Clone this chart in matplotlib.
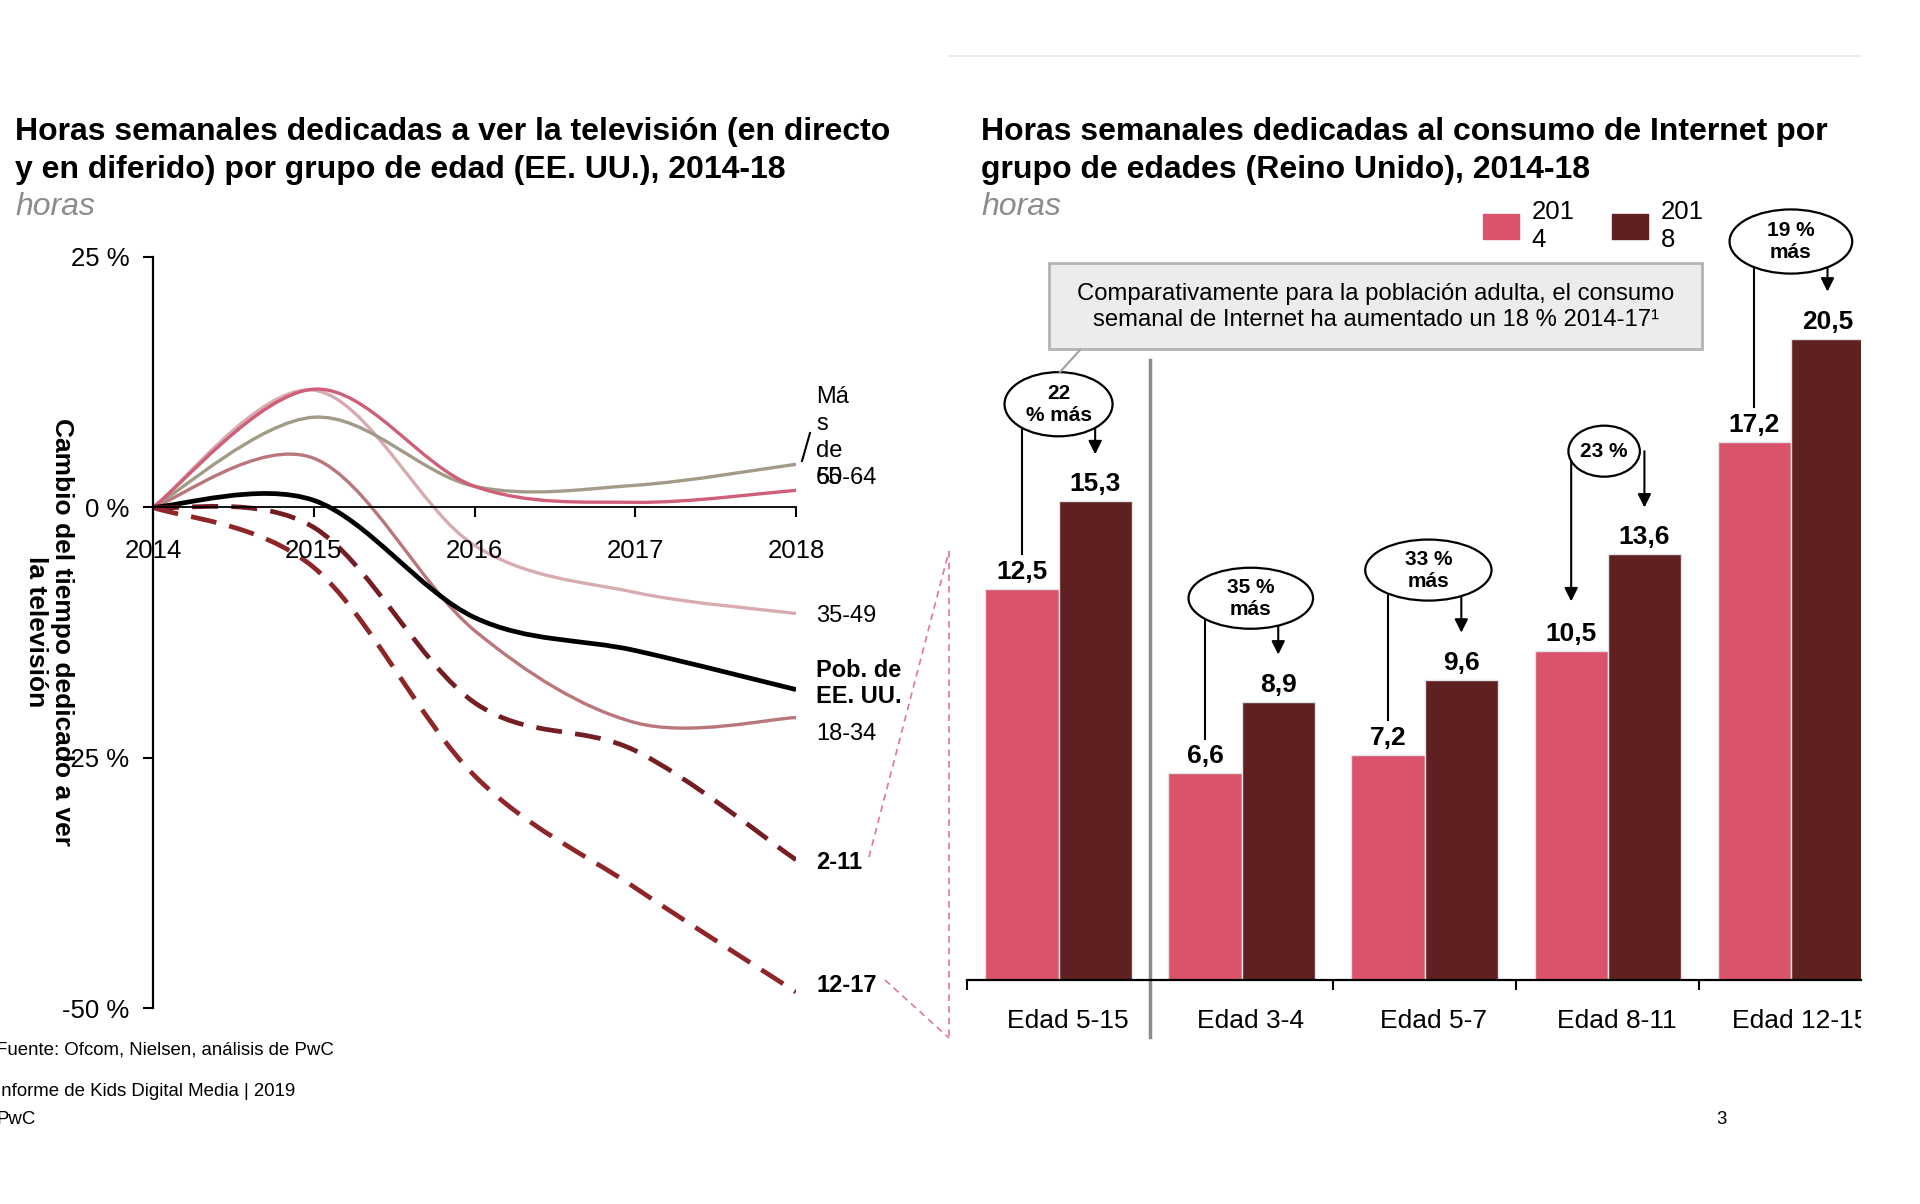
import matplotlib.pyplot as plt
from matplotlib.patches import Ellipse, Rectangle, Patch, PathPatch
from matplotlib.lines import Line2D
from matplotlib.path import Path
from matplotlib.transforms import Bbox, TransformedBbox, blended_transform_factory

plt.rcParams['font.family'] = ['Liberation Sans', 'DejaVu Sans']

# ---- left chart: change in TV time (%), yearly values ----
years = [2014, 2015, 2016, 2017, 2018]
mas65 = [0, 9.0, 2.1, 2.2, 4.3]
g50_64 = [0, 11.8, 2.1, 0.5, 1.7]
g35_49 = [0, 11.7, -3.8, -8.5, -10.6]
g18_34 = [0, 4.9, -12.3, -21.5, -21.0]
pob_eeuu = [0, 0.7, -11.0, -14.3, -18.2]
g2_11 = [0, -2.0, -19.5, -24.3, -35.2]
g12_17 = [0, -6.0, -26.8, -38.0, -48.4]

pct_ticks = [25, 0, -25, -50]
pct_labels = ['25 %', '0 %', '-25 %', '-50 %']

# ---- right chart: weekly internet hours (UK) ----
groups = ['Edad 5-15', 'Edad 3-4', 'Edad 5-7', 'Edad 8-11', 'Edad 12-15']
h2014 = [12.5, 6.6, 7.2, 10.5, 17.2]
h2018 = [15.3, 8.9, 9.6, 13.6, 20.5]
growth = ['22\n% más', '35 %\nmás', '33 %\nmás', '23 %', '19 %\nmás']

PINK = '#d9536b'
DARK = '#5e2021'

W, H = 1920, 1204


def fx(px):
    return px / W


def fy(py):
    return 1 - py / H


def smooth_path(xs, ys):
    """Smoothed line through the points (like a spreadsheet 'smooth line')"""
    pts = list(zip(xs, ys))
    n = len(pts)
    verts = [pts[0]]
    codes = [Path.MOVETO]
    for i in range(n - 1):
        p0 = pts[max(i - 1, 0)]
        p1 = pts[i]
        p2 = pts[i + 1]
        p3 = pts[min(i + 2, n - 1)]
        c1 = (p1[0] + (p2[0] - p0[0]) / 6, p1[1] + (p2[1] - p0[1]) / 6)
        c2 = (p2[0] - (p3[0] - p1[0]) / 6, p2[1] - (p3[1] - p1[1]) / 6)
        verts += [c1, c2, p2]
        codes += [Path.CURVE4] * 3
    return Path(verts, codes)


fig = plt.figure(figsize=(19.2, 12.04), dpi=100)

# ================= left chart =================
ax = fig.add_axes([fx(153), fy(1008), (796 - 153) / W, (1008 - 257) / H])

lines = [
    (g35_49, '#d8abb1', '-', 2.4),
    (g18_34, '#b9777c', '-', 2.4),
    (mas65, '#a19b88', '-', 2.4),
    (g50_64, '#cf5f78', '-', 2.4),
    (pob_eeuu, 'black', '-', 3.4),
    (g2_11, '#741d23', (0, (5.5, 2.8)), 3.4),
    (g12_17, '#8e2529', (0, (5.5, 2.8)), 3.4),
]
for vals, col, ls, lw in lines:
    ax.add_patch(PathPatch(smooth_path(years, vals), facecolor='none', edgecolor=col,
                           lw=lw, linestyle=ls, joinstyle='round', capstyle='butt'))

ax.set_xlim(2014, 2018)
ax.set_ylim(-50, 25)
ax.spines['top'].set_visible(False)
ax.spines['right'].set_visible(False)
ax.spines['bottom'].set_position(('data', 0))
ax.spines['left'].set_linewidth(1.6)
ax.spines['bottom'].set_linewidth(1.3)
ax.set_xticks(years)
ax.set_xticklabels([str(y) for y in years])
ax.set_yticks(pct_ticks)
ax.set_yticklabels(pct_labels)
ax.tick_params(axis='both', direction='out', length=7, width=1.5, labelsize=18.5)
ax.tick_params(axis='x', pad=16)
ax.tick_params(axis='y', pad=10)

# end labels
end_labels = [
    (g35_49, '35-49', 'normal', -3),
    (pob_eeuu, 'Pob. de\nEE. UU.', 'bold', 6),
    (g18_34, '18-34', 'normal', -16),
    (g2_11, '2-11', 'bold', -3),
    (g12_17, '12-17', 'bold', 6),
]
for vals, txt, wt, dy in end_labels:
    ax.annotate(txt, (2018, vals[-1]), xytext=(20, dy), textcoords='offset pixels',
                ha='left', va='center', fontsize=17, fontweight=wt, linespacing=1.2,
                annotation_clip=False)
ax.annotate('50-64', (2018, g50_64[-1]), xytext=(20, 1), textcoords='offset pixels',
            ha='left', va='bottom', fontsize=17, annotation_clip=False)
ax.annotate('Má\ns\nde\n65', (2018, g50_64[-1]), xytext=(20, 1), textcoords='offset pixels',
            ha='left', va='bottom', fontsize=17, linespacing=1.3, annotation_clip=False)
fig.add_artist(Line2D([fx(802), fx(810)], [fy(461), fy(433)], color='black', lw=1.5))

fig.text(fx(49), fy(632), 'Cambio del tiempo dedicado a ver\nla televisión', rotation=270,
         ha='center', va='center', multialignment='center', fontsize=19,
         fontweight='bold', linespacing=1.1)

# titles
fig.text(fx(15), fy(132), 'Horas semanales dedicadas a ver la televisión (en directo',
         fontsize=23, fontweight='bold', va='center')
fig.text(fx(15), fy(170), 'y en diferido) por grupo de edad (EE. UU.), 2014-18',
         fontsize=23, fontweight='bold', va='center')
fig.text(fx(15), fy(207), 'horas', fontsize=23, style='italic', color='#8c8c8c', va='center')

fig.text(fx(981), fy(132), 'Horas semanales dedicadas al consumo de Internet por',
         fontsize=23, fontweight='bold', va='center')
fig.text(fx(981), fy(170), 'grupo de edades (Reino Unido), 2014-18',
         fontsize=23, fontweight='bold', va='center')
fig.text(fx(981), fy(207), 'horas', fontsize=23, style='italic', color='#8c8c8c', va='center')

# footer
fig.text(fx(-4), fy(1050), 'Fuente: Ofcom, Nielsen, análisis de PwC', fontsize=13.4, va='center')
fig.text(fx(-4), fy(1091), 'Informe de Kids Digital Media | 2019', fontsize=13.4, va='center')
fig.text(fx(-4), fy(1119), 'PwC', fontsize=13.4, va='center')
fig.text(fx(1716), fy(1119), '3', fontsize=13.4, va='center')

# connector between the two charts
conn = dict(color='#e0788f', lw=1.2, ls=(0, (4, 3)))
fig.add_artist(Line2D([fx(869), fx(949)], [fy(857), fy(551)], **conn))
fig.add_artist(Line2D([fx(885), fx(949)], [fy(980), fy(1038)], **conn))
fig.add_artist(Line2D([fx(949), fx(949)], [fy(551), fy(1038)], **conn))
fig.add_artist(Line2D([fx(949), fx(1861)], [fy(56), fy(56)], color='#ebebeb', lw=1.5))

# ================= right chart =================
ax2 = fig.add_axes([fx(967), fy(980), (1861 - 967) / W, 751 / H])
xs = list(range(len(groups)))
ax2.bar([x - 0.2 for x in xs], h2014, width=0.4, color=PINK, edgecolor='#e4e4e4', lw=1)
ax2.bar([x + 0.2 for x in xs], h2018, width=0.4, color=DARK, edgecolor='#e4e4e4', lw=1)
ax2.set_xlim(-0.5, 4.383)
ax2.set_ylim(0, 24)
for s in ['top', 'right', 'left']:
    ax2.spines[s].set_visible(False)
ax2.spines['bottom'].set_linewidth(1.6)
ax2.set_yticks([])
ax2.set_xticks([-0.5, 1.5, 2.5, 3.5])
ax2.tick_params(axis='x', length=7, width=1.5, labelbottom=False)

clip = TransformedBbox(Bbox([[0, 0], [fx(1861), 1]]), fig.transFigure)
trans = blended_transform_factory(ax2.transData, ax2.transAxes)
for x, g in zip(xs, groups):
    t = ax2.text(x + 0.05, -41 / 751, g, transform=trans, ha='center', va='center',
                 fontsize=19)
    t.set_clip_box(clip)
    t.set_clip_on(True)

for x, v in zip(xs, h2014):
    ax2.annotate(f'{v:.1f}'.replace('.', ','), (x - 0.2, v), xytext=(0, 5),
                 textcoords='offset pixels', ha='center', va='bottom',
                 fontsize=19, fontweight='bold')
for x, v in zip(xs, h2018):
    ax2.annotate(f'{v:.1f}'.replace('.', ','), (x + 0.2, v), xytext=(0, 5),
                 textcoords='offset pixels', ha='center', va='bottom',
                 fontsize=19, fontweight='bold')

# separator between total and age groups
ax2.plot([0.5, 0.5], [19.8, -1.82], color='#8c8c8c', lw=2.5, clip_on=False)

# growth bubbles
ell_dx = [0, 0.05, 0.02, -0.02, 0]
ell_dy = [3.1, 3.3, 3.5, 3.3, 3.1]
ell_w = [0.59, 0.68, 0.69, 0.39, 0.67]
ell_h = [2.05, 1.95, 1.95, 1.63, 2.05]
for i, x in enumerate(xs):
    ex = x + ell_dx[i]
    ey = h2018[i] + ell_dy[i]
    ax2.add_patch(Ellipse((ex, ey), ell_w[i], ell_h[i], facecolor='white',
                          edgecolor='black', lw=1.6, zorder=5, clip_on=False))
    ax2.text(ex, ey, growth[i], ha='center', va='center', fontsize=15,
             fontweight='bold', zorder=6, linespacing=1.2)
    arrow = dict(arrowstyle='-|>', color='black', lw=1.5, mutation_scale=20,
                 shrinkA=0, shrinkB=0)
    if i == 3:
        ax2.annotate('', (x - 0.2, h2014[i] + 1.6), xytext=(x - 0.2, ey),
                     arrowprops=arrow, zorder=4, annotation_clip=False)
    else:
        ax2.plot([x - 0.2, x - 0.2], [ey, h2014[i] + 1.1], color='black', lw=1.5,
                 zorder=4, clip_on=False)
    ax2.annotate('', (x + 0.2, h2018[i] + 1.5), xytext=(x + 0.2, ey),
                 arrowprops=arrow, zorder=4, annotation_clip=False)

# legend
ax2.legend([Patch(color=PINK), Patch(color=DARK)], ['201\n4', '201\n8'], ncol=2,
           frameon=False, loc='upper left', bbox_to_anchor=(fx(1483), fy(200)),
           bbox_transform=fig.transFigure, fontsize=18.5, handlelength=1.4,
           handleheight=1.1, handletextpad=0.5, columnspacing=1.45, borderpad=0,
           borderaxespad=0)

# note box
fig.add_artist(Rectangle((fx(1049), fy(349)), (1702 - 1049) / W, (349 - 263) / H,
                         transform=fig.transFigure, facecolor='#ececec',
                         edgecolor='#b3b3b3', lw=2))
fig.text(fx(1376), fy(307),
         'Comparativamente para la población adulta, el consumo\n'
         'semanal de Internet ha aumentado un 18 % 2014-17¹',
         ha='center', va='center', fontsize=17.2, linespacing=1.2)
fig.add_artist(Line2D([fx(1080), fx(1060)], [fy(350), fy(372)], color='#a0a0a0', lw=1.5))

fig.savefig('out.png', dpi=100)
